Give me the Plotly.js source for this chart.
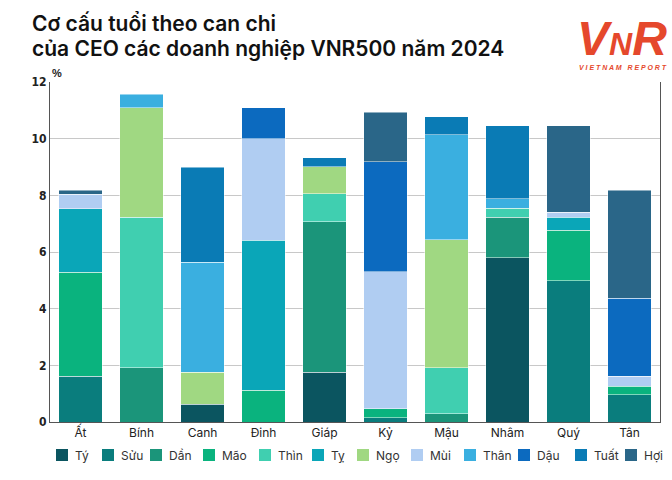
<!DOCTYPE html>
<html>
<head>
<meta charset="utf-8">
<script src="https://cdn.plot.ly/plotly-3.0.1.min.js"></script>
<style>html,body{margin:0;padding:0;background:#fff;}#chart{width:672px;height:480px;}</style>
</head>
<body>
<div id="chart"></div>
<script>
var categories = ['Ất','Bính','Canh','Đinh','Giáp','Kỷ','Mậu','Nhâm','Quý','Tân'];
var seriesNames = ['Tý','Sửu','Dần','Mão','Thìn','Tỵ','Ngọ','Mùi','Thân','Dậu','Tuất','Hợi'];
var ty    = [null, null, 0.62, null, 1.76, null, null, 5.80, null, null];
var suu   = [1.61, null, null, null, null, 0.15, null, null, 4.99, 0.97];
var dan   = [null, 1.91, null, null, 5.31, null, 0.30, 1.43, null, null];
var mao   = [3.68, null, null, 1.12, null, 0.32, null, null, 1.77, 0.30];
var thin  = [null, 5.32, null, null, 0.98, null, 1.62, 0.32, null, null];
var ti    = [2.24, null, null, 5.29, null, null, null, null, 0.47, null];
var ngo   = [null, 3.87, 1.13, null, 0.96, null, 4.52, null, null, null];
var mui   = [0.50, null, null, 3.58, null, 4.84, null, null, 0.17, 0.34];
var than  = [null, 0.47, 3.89, null, null, null, 3.70, 0.33, null, null];
var dau   = [null, null, null, 1.11, null, 3.87, null, null, null, 2.75];
var tuat  = [null, null, 3.36, null, 0.31, null, 0.63, 2.57, null, null];
var hoi   = [0.15, null, null, null, null, 1.75, null, null, 3.05, 3.82];
var seriesValues = [ty, suu, dan, mao, thin, ti, ngo, mui, than, dau, tuat, hoi];
var colors = ['#0b5560','#0a7d7d','#1b957a','#0ab37e','#40cfb0','#0aa6b8','#a0d882','#b0cdf2','#3aafe0','#0c6abf','#0a7bb5','#2a6688'];

var data = seriesNames.map(function(name, i){
  return {
    type: 'bar', name: name, x: categories, y: seriesValues[i], showlegend: false,
    marker: {color: colors[i], line: {color: 'rgba(255,255,255,0.8)', width: 0.6}},
    hovertemplate: '%{x} – ' + name + ': %{y}%<extra></extra>'
  };
});

// plot area geometry (pixels) used to place the hand-drawn legend
var M = {l: 50, r: 12, t: 82, b: 58};
var plotW = 672 - M.l - M.r, plotH = 480 - M.t - M.b;
function px2x(px){ return (px - M.l) / plotW; }
function px2y(py){ return (480 - M.b - py) / plotH; }
var legendLeft = [56, 102, 150, 203, 259, 312, 357, 411, 464, 518, 575, 625];
var legendMidY = 455, sq = 12;

var shapes = [], annotations = [];
seriesNames.forEach(function(name, i){
  var x0 = legendLeft[i];
  shapes.push({type: 'rect', xref: 'paper', yref: 'paper',
    x0: px2x(x0), x1: px2x(x0 + sq), y0: px2y(legendMidY + sq/2), y1: px2y(legendMidY - sq/2),
    fillcolor: colors[i], line: {width: 0}});
  annotations.push({text: name, xref: 'paper', yref: 'paper', x: px2x(x0 + sq + 5), y: px2y(legendMidY),
    xanchor: 'left', yanchor: 'middle', showarrow: false,
    font: {family: 'Inter, "Open Sans", sans-serif', size: 12, color: '#333'}});
});

annotations.push(
  {text: 'Cơ cấu tuổi theo can chi', xref: 'paper', yref: 'paper', x: px2x(30), y: px2y(24),
   xanchor: 'left', yanchor: 'middle', showarrow: false,
   font: {family: 'Inter, "Open Sans", sans-serif', size: 21, color: '#111', weight: 600}},
  {text: 'của CEO các doanh nghiệp VNR500 năm 2024', xref: 'paper', yref: 'paper', x: px2x(30), y: px2y(49),
   xanchor: 'left', yanchor: 'middle', showarrow: false,
   font: {family: 'Inter, "Open Sans", sans-serif', size: 21, color: '#111', weight: 600}},
  {text: '%', xref: 'paper', yref: 'paper', x: 0, y: 1, xanchor: 'left', yanchor: 'bottom', yshift: 1,
   showarrow: false, font: {family: '"Liberation Sans Narrow", sans-serif', size: 11, color: '#222', weight: 700}},
  {text: 'V<span style="font-size:32px">N</span>R', xref: 'paper', yref: 'paper', x: px2x(669), y: px2y(38),
   xanchor: 'right', yanchor: 'middle', showarrow: false,
   font: {family: '"Liberation Sans", sans-serif', size: 48, color: '#e5482c', weight: 700, style: 'italic'}},
  {text: 'V I E T N A M   R E P O R T', xref: 'paper', yref: 'paper', x: px2x(669), y: px2y(68),
   xanchor: 'right', yanchor: 'middle', showarrow: false,
   font: {family: '"Liberation Sans", sans-serif', size: 7, color: '#e5482c', weight: 700, style: 'italic'}}
);

var layout = {
  width: 672, height: 480,
  paper_bgcolor: '#fff', plot_bgcolor: '#fff',
  margin: M, showlegend: false,
  barmode: 'stack', bargap: 0.28,
  font: {family: 'Inter, "Open Sans", sans-serif', color: '#222'},
  xaxis: {
    showline: true, linecolor: '#555', linewidth: 1,
    ticks: '', tickfont: {size: 12, color: '#222'}, showgrid: false
  },
  yaxis: {
    range: [0, 12], dtick: 2, showline: true, mirror: true, linecolor: '#555', linewidth: 1,
    gridcolor: '#c8c8c8', gridwidth: 1, ticks: '', zeroline: false,
    tickfont: {family: '"Liberation Sans Narrow", "DejaVu Sans Condensed", sans-serif', size: 12, color: '#222', weight: 700}
  },
  shapes: shapes,
  annotations: annotations
};

Plotly.newPlot('chart', data, layout, {displayModeBar: false});
</script>
</body>
</html>
